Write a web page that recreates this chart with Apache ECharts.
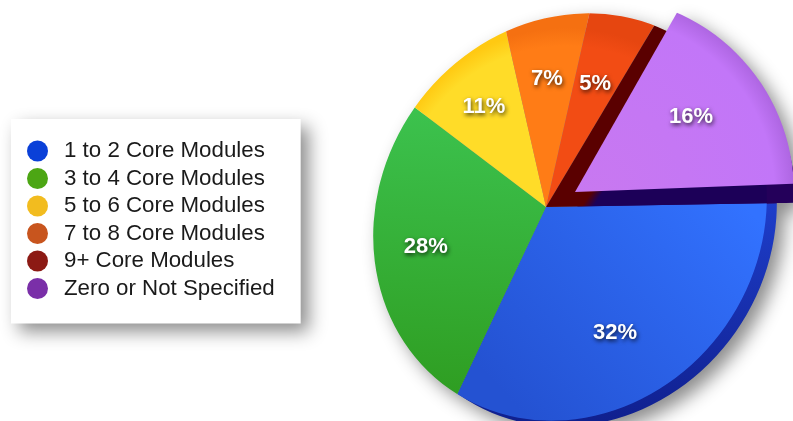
<!DOCTYPE html>
<html><head><meta charset="utf-8">
<style>
html,body{margin:0;padding:0;background:#fff;overflow:hidden}
#root{position:relative;width:793px;height:421px;overflow:hidden}
#shadowed{position:absolute;left:0;top:0;width:793px;height:421px;filter:drop-shadow(8px 8px 9px rgba(0,0,0,.45))}
.layer{position:absolute;left:0;top:0;width:793px;height:421px}
#wedge{clip-path:circle(196px at 598px 192px)}
</style>
<script src="https://cdn.jsdelivr.net/npm/echarts@6/dist/echarts.min.js"></script>
</head><body>
<div id="root">
  <div id="shadowed">
    <div id="depth" class="layer"></div>
    <div id="faces" class="layer"></div>
    <div id="wedge" class="layer"></div>
    <div id="front" class="layer"></div>
  </div>
  <div id="labels" class="layer"></div>
</div>
<script>
const categories = ['1 to 2 Core Modules','3 to 4 Core Modules','5 to 6 Core Modules','7 to 8 Core Modules','9+ Core Modules','Zero or Not Specified'];
const shares = [32,28,11,7,5,16];
const legendColors = ['#0a40d8','#4ca614','#f2bc1f','#c8551e','#8c1a14','#7a2fa8'];

// The disc is seen in perspective: its rim is a tilted ellipse, applied as a CSS clip outline.
function rimPath(cx,cy){
  const a=210,b=190,rot=55*Math.PI/180,dx=a*Math.cos(rot),dy=a*Math.sin(rot);
  return `M${cx+dx} ${cy-dy}A${a} ${b} -55 1 1 ${cx-dx} ${cy+dy}A${a} ${b} -55 1 1 ${cx+dx} ${cy-dy}Z`;
}
document.getElementById('faces').style.clipPath=`path("${rimPath(570,217)}")`;
document.getElementById('depth').style.clipPath=`path("M560 0H793V203H560Z ${rimPath(580,223)}")`;

const gGrad=(x,y,x2,y2,a,b)=>({type:'linear',global:true,x,y,x2,y2,colorStops:[{offset:0,color:a},{offset:1,color:b}]});
const rim=(inner,edge)=>({type:'radial',global:true,x:566,y:214,r:200,colorStops:[{offset:0,color:inner},{offset:.84,color:inner},{offset:.93,color:edge},{offset:1,color:edge}]});
const faceColors = [
  gGrad(740,200,520,410,'#3272ff','#2452d2'),
  gGrad(450,110,430,390,'#3cc24e','#2f9e22'),
  rim('#ffdc28','#ffc912'),
  rim('#ff7c16','#f57011'),
  rim('#f24c14','#e64610'),
  gGrad(583,204.3,591,209.7,'#5a0000','#1c0058')
];
const hidden={color:'rgba(0,0,0,0)'};
const pie=(colors,center,radius,startAngle,extra)=>Object.assign({
  type:'pie',startAngle,center,radius:[0,radius],silent:true,animation:false,clockwise:true,avoidLabelOverlap:false,
  label:{show:false},labelLine:{show:false},
  data:categories.map((name,i)=>({name,value:shares[i],itemStyle:colors[i]?{color:colors[i]}:hidden}))
},extra||{});
const mk=(id,opt)=>echarts.init(document.getElementById(id),null,{renderer:'canvas'}).setOption(opt);

mk('depth',{series:[
  pie([gGrad(0,200,0,420,'#1e3ecb','#10208f'),null,null,null,null,null],[546,207],320,1),
  pie([null,null,null,null,null,'#24005a'],[575,211],222,2.2)
]});
mk('faces',{series:[pie(faceColors,[546,207],320,1)]});
mk('wedge',{series:[pie([null,null,null,null,null,{type:'radial',global:true,x:598,y:192,r:196,colorStops:[{offset:0,color:'#c878f0'},{offset:.9,color:'#c276f8'},{offset:1,color:'#ae66e2'}]}],[575,192],300,2.2)]});
mk('front',{
  legend:{orient:'vertical',left:11,top:119,padding:[21,26,24,16],backgroundColor:'#fff',icon:'circle',itemWidth:21,itemHeight:21,itemGap:5.5,
    selectedMode:false,textStyle:{fontFamily:'Liberation Sans',fontSize:22.3,color:'#1a1a1a',padding:[0,0,0,11]},
    data:categories.map((name,i)=>({name,itemStyle:{color:legendColors[i]}}))},
  series:[pie([null,null,null,null,null,null],[546,207],1,1)]
});
const labelShift=[[-3,14],[9,8],[10,12],[1,5],[0,0],[30,-23]];
mk('labels',{series:[pie([null,null,null,null,null,null],[546,207],260,1,{
  label:{show:true,position:'inside',formatter:'{c}%',color:'#fff',fontFamily:'Liberation Sans',fontWeight:'bold',fontSize:22,textShadowColor:'rgba(0,0,0,.75)',textShadowBlur:4,textShadowOffsetX:1,textShadowOffsetY:2},
  labelLayout:(p)=>({dx:labelShift[p.dataIndex][0],dy:labelShift[p.dataIndex][1]})
})]});
</script>
</body></html>
